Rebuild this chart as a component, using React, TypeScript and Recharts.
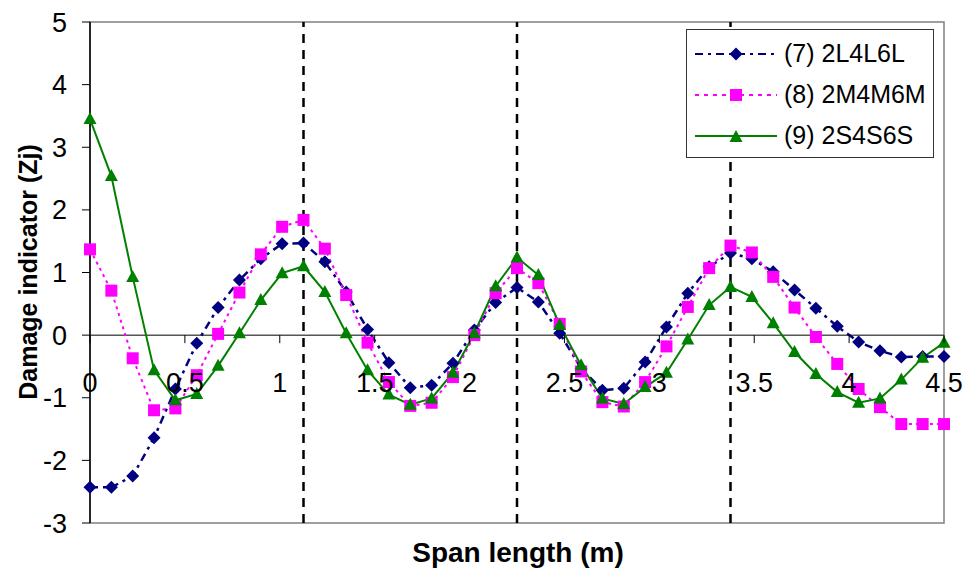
import { LineChart, Line, XAxis, YAxis, ReferenceLine, ReferenceArea, Legend } from "recharts";

// sensor positions along the span (m)
const spanPositions = [
  0, 0.1125, 0.225, 0.3375, 0.45, 0.5625, 0.675, 0.7875, 0.9, 1.0125,
  1.125, 1.2375, 1.35, 1.4625, 1.575, 1.6875, 1.8, 1.9125, 2.025, 2.1375,
  2.25, 2.3625, 2.475, 2.5875, 2.7, 2.8125, 2.925, 3.0375, 3.15, 3.2625,
  3.375, 3.4875, 3.6, 3.7125, 3.825, 3.9375, 4.05, 4.1625, 4.275, 4.3875,
  4.5,
];

const case7 = [
  -2.43, -2.43, -2.25, -1.64, -0.86, -0.13, 0.44, 0.88, 1.22, 1.46,
  1.47, 1.17, 0.69, 0.09, -0.44, -0.84, -0.8, -0.45, 0.08, 0.52,
  0.76, 0.53, 0.03, -0.53, -0.88, -0.85, -0.43, 0.13, 0.67, 1.09,
  1.31, 1.22, 1.01, 0.72, 0.43, 0.14, -0.11, -0.25, -0.35, -0.34,
  -0.34,
];

const case8 = [
  1.37, 0.71, -0.37, -1.2, -1.17, -0.64, 0.02, 0.68, 1.29, 1.73,
  1.84, 1.38, 0.64, -0.12, -0.75, -1.13, -1.08, -0.67, 0.0, 0.67,
  1.07, 0.83, 0.18, -0.58, -1.07, -1.14, -0.75, -0.18, 0.45, 1.07,
  1.43, 1.32, 0.93, 0.44, -0.03, -0.46, -0.86, -1.15, -1.42, -1.42,
  -1.42,
];

const case9 = [
  3.45, 2.54, 0.93, -0.56, -1.04, -0.94, -0.49, 0.03, 0.56, 0.99,
  1.1, 0.69, 0.03, -0.56, -0.95, -1.11, -1.01, -0.6, 0.03, 0.78,
  1.24, 0.96, 0.16, -0.48, -1.01, -1.1, -0.83, -0.6, -0.07, 0.48,
  0.77, 0.61, 0.19, -0.27, -0.62, -0.91, -1.08, -1.01, -0.71, -0.36,
  -0.12,
];

const seriesNames = ["(7) 2L4L6L", "(8) 2M4M6M", "(9) 2S4S6S"];
const xTicks = [0, 0.5, 1, 1.5, 2, 2.5, 3, 3.5, 4, 4.5];
const yTicks = [-3, -2, -1, 0, 1, 2, 3, 4, 5];
const supportLines = [1.125, 2.25, 3.375];

const data = spanPositions.map((x, i) => ({ x, a: case7[i], b: case8[i], c: case9[i] }));

const FONT = "Arial, 'Liberation Sans', sans-serif";
const PLOT_TOP = 22;
const PLOT_H = 501;
const ZERO_Y = PLOT_TOP + PLOT_H * (5 / 8);

const NAVY = "#000080";
const PINK = "#FF00FF";
const GREEN = "#008000";

function diamond(cx: number, cy: number, r = 6.5) {
  return `M${cx},${cy - r}L${cx + r},${cy}L${cx},${cy + r}L${cx - r},${cy}Z`;
}
function triangle(cx: number, cy: number) {
  return `M${cx},${cy - 7}L${cx + 6.5},${cy + 5}L${cx - 6.5},${cy + 5}Z`;
}

const DiamondDot = (p: any) => <path key={`d${p.index}`} d={diamond(p.cx, p.cy)} fill={NAVY} />;
const SquareDot = (p: any) => (
  <rect key={`s${p.index}`} x={p.cx - 6} y={p.cy - 6} width={12} height={12} fill={PINK} />
);
const TriangleDot = (p: any) => <path key={`t${p.index}`} d={triangle(p.cx, p.cy)} fill={GREEN} />;

// x tick labels sit just under the zero line, like the Excel original
const renderXTick = (p: any) => (
  <g key={`xt${p.index}`}>
    <line x1={p.x} x2={p.x} y1={ZERO_Y} y2={ZERO_Y + 8} stroke="#000" strokeWidth={1} />
    <text x={p.x} y={ZERO_Y + 57} textAnchor="middle" fontSize={27} fontFamily={FONT} fill="#000">
      {p.payload.value}
    </text>
  </g>
);

const legendStyles = [
  { color: NAVY, dash: "8 5 3 5", mark: "diamond" },
  { color: PINK, dash: "4 5", mark: "square" },
  { color: GREEN, dash: undefined, mark: "triangle" },
];

function LegendBox() {
  return (
    <div
      style={{
        border: "1px solid #333",
        background: "#fff",
        width: 246,
        height: 124,
        paddingTop: 3,
        boxSizing: "content-box",
        fontFamily: FONT,
      }}
    >
      {seriesNames.map((name, i) => {
        const s = legendStyles[i];
        return (
          <div key={name} style={{ display: "flex", alignItems: "center", height: 41 }}>
            <svg width={82} height={20} style={{ marginLeft: 8, marginRight: 7 }}>
              <line x1={0} x2={82} y1={10} y2={10} stroke={s.color} strokeWidth={2} strokeDasharray={s.dash} />
              {s.mark === "diamond" && <path d={diamond(41, 10)} fill={s.color} />}
              {s.mark === "square" && <rect x={35} y={4} width={12} height={12} fill={s.color} />}
              {s.mark === "triangle" && <path d={triangle(41, 11)} fill={s.color} />}
            </svg>
            <span style={{ fontSize: 25, color: "#000", whiteSpace: "nowrap" }}>{name}</span>
          </div>
        );
      })}
    </div>
  );
}

export default function App() {
  return (
    <div style={{ position: "absolute", left: 0, top: 0, width: 971, height: 581, background: "#fff" }}>
      <LineChart width={971} height={581} data={data} margin={{ top: PLOT_TOP, right: 27, bottom: 57, left: 0 }}>
        <ReferenceArea x1={0} x2={4.5} y1={-3} y2={5} fill="none" stroke="#808080" strokeWidth={1.5} />
        <XAxis
          type="number"
          dataKey="x"
          domain={[0, 4.5]}
          ticks={xTicks}
          interval={0}
          axisLine={false}
          tickLine={false}
          tick={renderXTick}
          height={1}
        />
        <YAxis
          type="number"
          domain={[-3, 5]}
          ticks={yTicks}
          interval={0}
          width={90}
          tickSize={8}
          tickMargin={15}
          axisLine={{ stroke: "#000", strokeWidth: 1.5 }}
          tickLine={{ stroke: "#000" }}
          tick={{ fontSize: 27, fill: "#000", fontFamily: FONT }}
        />
        <ReferenceLine y={0} stroke="#555" strokeWidth={1.5} />
        {supportLines.map((x) => (
          <ReferenceLine key={x} x={x} stroke="#000" strokeWidth={2.5} strokeDasharray="9 7" />
        ))}
        <Line
          dataKey="a"
          name={seriesNames[0]}
          stroke={NAVY}
          strokeWidth={2.5}
          strokeDasharray="8 5 3 5"
          dot={DiamondDot}
          isAnimationActive={false}
        />
        <Line
          dataKey="b"
          name={seriesNames[1]}
          stroke={PINK}
          strokeWidth={2}
          strokeDasharray="3 4"
          dot={SquareDot}
          isAnimationActive={false}
        />
        <Line
          dataKey="c"
          name={seriesNames[2]}
          stroke={GREEN}
          strokeWidth={2}
          dot={TriangleDot}
          isAnimationActive={false}
        />
        <Legend
          layout="horizontal"
          verticalAlign="middle"
          align="center"
          content={() => <LegendBox />}
          wrapperStyle={{ left: 686, top: 29, width: 248, height: 128 }}
        />
      </LineChart>
      <div
        style={{
          position: "absolute",
          left: 28,
          top: 272,
          transform: "translate(-50%, -50%) rotate(-90deg)",
          whiteSpace: "nowrap",
          fontFamily: FONT,
          fontWeight: "bold",
          fontSize: 25,
        }}
      >
        Damage indicator (Zj)
      </div>
      <div
        style={{
          position: "absolute",
          left: 518,
          top: 553,
          transform: "translate(-50%, -50%)",
          whiteSpace: "nowrap",
          fontFamily: FONT,
          fontWeight: "bold",
          fontSize: 28,
        }}
      >
        Span length (m)
      </div>
    </div>
  );
}
